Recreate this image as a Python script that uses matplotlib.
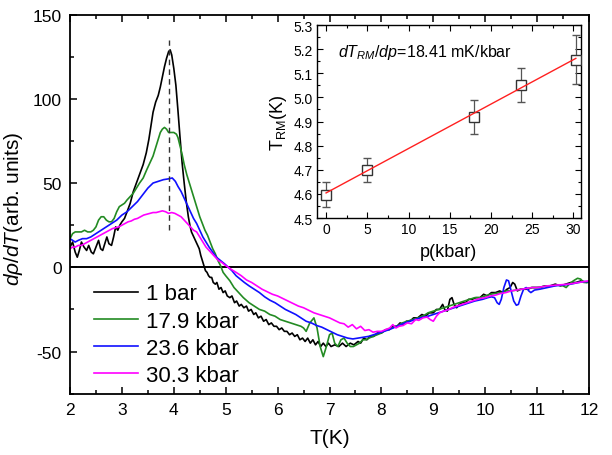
import matplotlib
matplotlib.use("Agg")
import matplotlib.pyplot as plt
from matplotlib.ticker import MultipleLocator
import numpy as np

plt.rcParams['font.family'] = ['Liberation Sans', 'DejaVu Sans']
plt.rcParams['mathtext.fontset'] = 'custom'
plt.rcParams['mathtext.rm'] = 'Liberation Sans'
plt.rcParams['mathtext.it'] = 'Liberation Sans:italic'
plt.rcParams['axes.unicode_minus'] = False

# ---------------- data ----------------
black_T = [2.00,2.05,2.10,2.14,2.18,2.22,2.27,2.32,2.36,2.41,2.45,2.50,2.55,2.59,2.63,2.67,2.71,2.75,2.80,2.84,2.88,2.92,2.96,3.00,3.05,3.10,3.16,3.22,3.28,3.34,3.41,3.47,3.52,3.56,3.60,3.65,3.70,3.74,3.78,3.82,3.86,3.90,3.93,3.96,4.00,4.04,4.08,4.12,4.16,4.20,4.24,4.28,4.31,4.34,4.37,4.40,4.43,4.46,4.49,4.52,4.55,4.58,4.61,4.64,4.67,4.70,4.73,4.76,4.80,4.83,4.87,4.91,4.95,4.99,5.03,5.08,5.12,5.17,5.21,5.26,5.30,5.35,5.40,5.44,5.49,5.54,5.58,5.63,5.68,5.73,5.78,5.83,5.88,5.93,5.98,6.03,6.08,6.13,6.18,6.23,6.28,6.33,6.38,6.43,6.48,6.53,6.58,6.63,6.68,6.73,6.78,6.83,6.88,6.93,6.98,7.03,7.10,7.18,7.25,7.32,7.40,7.47,7.55,7.60,7.66,7.72,7.78,7.85,7.92,8.00,8.08,8.15,8.22,8.30,8.36,8.42,8.48,8.55,8.62,8.70,8.78,8.85,8.92,9.00,9.06,9.12,9.18,9.22,9.27,9.32,9.36,9.40,9.45,9.50,9.56,9.62,9.68,9.75,9.82,9.90,9.97,10.04,10.12,10.20,10.28,10.35,10.42,10.48,10.53,10.57,10.62,10.68,10.75,10.82,10.90,10.98,11.05,11.15,11.25,11.35,11.45,11.55,11.65,11.75,11.85,11.95,12.00]
black_v = [12,15,9,6,10,15,12,10,13,9,8,12,16,11,10,14,18,14,13,18,24,22,25,27,29,33,38,45,50,55,61,68,76,84,92,98,102,107,113,119,124,128,129,126,118,108,93,77,62,50,39,30,25,21,19,17,15,13,11,7,4,1,-2,-3,-5,-6,-6,-9,-10,-9,-13,-12,-15,-14,-17,-18,-17,-21,-20,-23,-22,-24,-23,-26,-25,-28,-27,-30,-29,-32,-31,-34,-33,-35,-35,-37,-36,-38,-38,-40,-39,-41,-40,-43,-42,-44,-42,-45,-43,-46,-44,-47,-45,-47,-45,-47,-46,-47,-45,-47,-45,-46,-44,-45,-42,-43,-41,-41,-39,-39,-37,-37,-35,-35,-33,-34,-32,-32,-30,-30,-28,-29,-27,-27,-25,-25,-22,-25,-26,-19,-18,-22,-24,-22,-21,-21,-19,-19,-18,-18,-16,-17,-15,-15,-14,-15,-13,-12,-9,-10,-14,-13,-13,-13,-12,-12,-12,-11,-11,-10,-11,-10,-9,-9,-8,-9,-8.5]

green_T = [2.00,2.05,2.10,2.16,2.22,2.28,2.34,2.40,2.45,2.50,2.55,2.60,2.65,2.70,2.75,2.80,2.85,2.90,2.95,3.00,3.05,3.10,3.16,3.22,3.28,3.34,3.41,3.48,3.54,3.60,3.65,3.70,3.74,3.78,3.82,3.86,3.90,3.95,4.00,4.05,4.08,4.12,4.16,4.20,4.25,4.30,4.35,4.40,4.45,4.50,4.55,4.60,4.65,4.70,4.75,4.80,4.85,4.90,4.95,5.00,5.08,5.16,5.25,5.34,5.45,5.55,5.65,5.75,5.85,5.95,6.05,6.15,6.25,6.35,6.45,6.50,6.55,6.62,6.70,6.76,6.82,6.88,6.94,7.00,7.05,7.10,7.16,7.22,7.28,7.34,7.40,7.46,7.52,7.58,7.64,7.70,7.76,7.84,7.92,8.00,8.10,8.20,8.30,8.40,8.50,8.60,8.70,8.80,8.90,9.00,9.10,9.20,9.30,9.40,9.50,9.60,9.70,9.80,9.90,10.00,10.10,10.20,10.30,10.40,10.50,10.60,10.70,10.80,10.90,11.00,11.10,11.20,11.30,11.40,11.50,11.56,11.62,11.70,11.78,11.84,11.90,12.00]
green_v = [17,20,21,21,21,22,21,21,22,24,28,30,30,28,27,27,29,33,36,37,38,40,42,44,47,50,53,58,62,66,71,76,80,82,83,82,80,80,80,79,77,72,67,61,55,50,45,40,35,30,26,22,19,15,11,8,4,1,-3,-5,-8,-12,-15,-18,-21,-23,-25,-26,-28,-29,-31,-32,-33,-34,-35,-36,-38,-33,-30,-36,-47,-53,-47,-40,-39,-45,-47,-43,-42,-45,-47,-47,-46,-45,-43,-43,-42,-41,-40,-39,-37,-36,-35,-33,-32,-31,-30,-29,-27,-26,-25,-24,-23,-22,-21,-20,-19,-18,-18,-17,-16,-15.5,-15,-14,-14,-13.5,-13,-12.5,-12,-12,-11.5,-11,-11,-10.5,-11,-12,-10,-8,-6.5,-7,-9,-9]

blue_T = [2.00,2.05,2.10,2.16,2.24,2.32,2.40,2.50,2.60,2.70,2.80,2.90,3.00,3.10,3.20,3.30,3.40,3.50,3.60,3.70,3.80,3.90,3.97,4.03,4.08,4.14,4.20,4.26,4.32,4.38,4.44,4.50,4.56,4.62,4.68,4.75,4.82,4.90,4.98,5.05,5.12,5.20,5.28,5.36,5.45,5.55,5.65,5.75,5.85,5.95,6.05,6.15,6.25,6.35,6.45,6.55,6.65,6.75,6.85,6.95,7.05,7.15,7.25,7.35,7.45,7.55,7.65,7.75,7.85,7.95,8.05,8.15,8.30,8.45,8.60,8.75,8.90,9.05,9.20,9.35,9.50,9.65,9.80,9.95,10.05,10.12,10.18,10.23,10.27,10.31,10.36,10.41,10.45,10.50,10.55,10.60,10.64,10.69,10.74,10.79,10.84,10.88,10.95,11.05,11.20,11.35,11.50,11.65,11.80,11.90,12.00]
blue_v = [17,16,15,16,17,17,18,20,22,24,26,28,31,33,36,39,43,47,50,51,52,52.5,53,51,48,45,41,37,33,29,26,22,18,15,12,9,6,4,2,0,-2,-5,-7,-9,-11,-13,-15,-17.5,-19.5,-21,-23,-25,-26.5,-28,-30,-32,-33,-34.5,-35.5,-37,-38.5,-40,-41,-42,-42.5,-42,-41.5,-41,-40,-39,-38,-37,-35,-33,-31.5,-30,-29,-27.5,-26,-24.5,-23,-21.5,-20,-19,-18,-17.5,-18,-21,-22,-19,-12,-7.5,-8,-14,-20,-22.5,-22,-17,-13,-12,-14,-15,-13.5,-13,-12,-11,-10.5,-10,-9,-8.5,-8.5]

mag_T = [2.00,2.05,2.10,2.16,2.22,2.28,2.34,2.40,2.46,2.52,2.58,2.64,2.70,2.76,2.82,2.88,2.94,3.00,3.06,3.12,3.18,3.24,3.30,3.36,3.42,3.48,3.54,3.60,3.66,3.72,3.78,3.84,3.90,3.96,4.02,4.08,4.14,4.20,4.26,4.32,4.38,4.44,4.50,4.56,4.62,4.68,4.74,4.80,4.86,4.92,4.98,5.05,5.12,5.20,5.30,5.40,5.50,5.60,5.70,5.80,5.90,6.00,6.10,6.20,6.30,6.40,6.50,6.60,6.70,6.80,6.90,7.00,7.10,7.20,7.28,7.36,7.44,7.52,7.60,7.68,7.76,7.84,7.92,8.00,8.08,8.16,8.22,8.28,8.34,8.42,8.50,8.58,8.66,8.72,8.80,8.88,8.94,9.00,9.06,9.12,9.20,9.30,9.40,9.50,9.60,9.70,9.80,9.90,10.00,10.10,10.20,10.30,10.40,10.50,10.60,10.70,10.80,10.90,11.00,11.20,11.40,11.60,11.80,12.00]
mag_v = [11,12,12,13,13,14,15,16,17,18,19,20,21,22,23,23.5,24,25,26,27,27.5,28.5,29,30,31,31.5,32,32.5,32.5,33,33.5,33,32,32.5,32,31,30,28,26,24,22,21,18,15,12,10,8,6,4,3,1.5,0,-1.5,-3,-5,-7.5,-9,-11,-13,-14.5,-16,-17,-18.5,-20,-21.5,-23,-24,-25.5,-27,-28,-29,-30,-31.5,-33,-33.5,-35.5,-34,-36.5,-35,-37.5,-37,-38.5,-38,-38,-37,-36,-34,-36,-35,-34.5,-33,-33.5,-31,-31.5,-30,-29.5,-31,-32,-29,-27,-26,-25,-23.5,-22.5,-21.5,-20.5,-19.5,-18.5,-18,-17,-16.5,-15.5,-15,-14,-13.5,-13,-12.5,-12,-12,-11,-10.5,-10,-9,-8]

labels = ["1 bar", "17.9 kbar", "23.6 kbar", "30.3 kbar"]
colors = ["black", "#238b23", "#1010ff", "#ff00ff"]

peak_T = 3.9
peak_range = [22, 135]

p_kbar = [0, 5, 18, 23.6, 30.3]
T_RM = [4.596, 4.70, 4.92, 5.05, 5.157]
T_RM_err = [0.052, 0.05, 0.07, 0.07, 0.10]
fit_slope = 0.01841
fit_intercept = 4.604
fit_p = [0, 30.3]

# ---------------- figure ----------------
fig = plt.figure(figsize=(6.12, 4.56), dpi=100)
ax = fig.add_axes([0.1144, 0.1344, 0.848, 0.8316])

series = [(black_T, black_v), (green_T, green_v), (blue_T, blue_v), (mag_T, mag_v)]
for (t, v), c, l in zip(series, colors, labels):
    ax.plot(t, v, color=c, lw=1.2, label=l)

ax.axhline(0, color='black', lw=1.4, zorder=1)
ax.plot([peak_T, peak_T], peak_range, ls=(0, (4, 3)), color='#333333', lw=1.0)

ax.set_xlim(2, 12)
ax.set_ylim(-75, 150)
ax.xaxis.set_major_locator(MultipleLocator(1))
ax.xaxis.set_minor_locator(MultipleLocator(0.5))
ax.yaxis.set_major_locator(MultipleLocator(50))
ax.yaxis.set_minor_locator(MultipleLocator(25))
ax.tick_params(which='both', direction='in', top=True, right=False, labelsize=12.5, width=1.1)
ax.tick_params(which='major', length=5, pad=6)
ax.tick_params(which='minor', length=3)
for s in ax.spines.values():
    s.set_linewidth(1.3)

ax.set_xlabel("T(K)", fontsize=15, labelpad=8)
ax.set_ylabel(r"$d\rho/dT$(arb. units)", fontsize=15)
ax.yaxis.set_label_coords(-0.087, 0.49)

leg = ax.legend(loc='lower left', bbox_to_anchor=(0.02, -0.015), frameon=False, fontsize=16,
                handlelength=2.0, handletextpad=0.35, labelspacing=0.28, borderaxespad=0.2)

# ---------------- inset ----------------
ins = fig.add_axes([0.518, 0.5197, 0.431, 0.4232])
ins.errorbar(p_kbar, T_RM, yerr=T_RM_err, fmt='s', mfc='white', mec='#333333', ms=7, mew=1.0,
             ecolor='#555555', elinewidth=0.9, capsize=3, capthick=0.9, zorder=3)
fp = np.array(fit_p)
ins.plot(fp, fit_intercept + fit_slope * fp, color='#ff2020', lw=1.0, zorder=4)
ins.set_xlim(-1.1, 30.9)
ins.set_ylim(4.5, 5.3)
ins.xaxis.set_major_locator(MultipleLocator(5))
ins.xaxis.set_minor_locator(MultipleLocator(2.5))
ins.yaxis.set_major_locator(MultipleLocator(0.1))
ins.yaxis.set_minor_locator(MultipleLocator(0.05))
ins.yaxis.set_major_formatter(matplotlib.ticker.FormatStrFormatter('%.1f'))
ins.tick_params(which='both', direction='in', top=True, right=True, labelsize=10, width=0.8)
ins.tick_params(which='major', length=4, pad=3)
ins.tick_params(which='minor', length=2)
for s in ins.spines.values():
    s.set_linewidth(1.0)
ins.set_xlabel("p(kbar)", fontsize=13, labelpad=5)
ins.set_ylabel(r"T$_{\mathrm{RM}}$(K)", fontsize=13, labelpad=3)
ins.text(0.08, 0.865, r"$dT_{RM}/dp$=18.41 mK/kbar", transform=ins.transAxes,
         fontsize=11.5, va='center', ha='left')

fig.savefig("out.png", dpi=100)
